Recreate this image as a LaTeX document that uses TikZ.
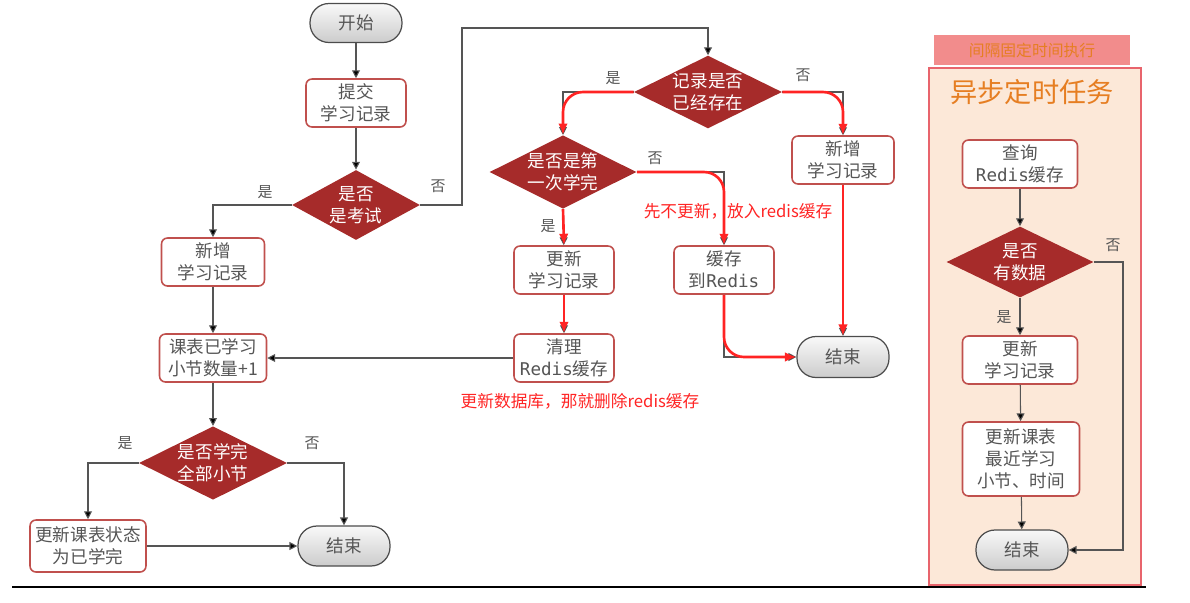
\documentclass[tikz,border=0pt]{standalone}
\usepackage{fontspec}
\setmainfont{Noto Sans CJK SC}
\setmonofont{DejaVu Sans Mono}
\usepackage{tikz}
\usetikzlibrary{shapes.geometric,arrows.meta,positioning}
\definecolor{boxred}{HTML}{C0504D}
\definecolor{decred}{HTML}{A62B2A}
\definecolor{txtgray}{HTML}{555555}
\definecolor{hotred}{HTML}{FF2424}
\definecolor{peach}{HTML}{FCE8D8}
\definecolor{panelred}{HTML}{E8646C}
\definecolor{headpink}{HTML}{F28C8C}
\definecolor{titleorange}{HTML}{E67E22}

\begin{document}
\begin{tikzpicture}[x=0.02cm, y=-0.02cm,
    box/.style={draw=boxred, line width=0.9pt, rounded corners=0.12cm, fill=white,
      text=txtgray, align=center, minimum width=2cm, minimum height=0.96cm,
      inner sep=1pt, font=\fontsize{10}{12.5}\selectfont},
    decide/.style={diamond, aspect=2, inner sep=0pt, fill=decred, text=white,
      align=center, minimum width=2.96cm, minimum height=1.42cm,
      font=\fontsize{10}{12.5}\selectfont},
    term/.style={rounded corners=0.38cm, draw=gray!60!black, line width=0.7pt,
      top color=gray!5, bottom color=gray!40, minimum width=1.84cm,
      minimum height=0.78cm, text=txtgray, font=\fontsize{10}{12}\selectfont},
    flow/.style={draw=txtgray, line width=0.6pt,
      -{Triangle[length=4.5pt,width=4.5pt,fill=black]}},
    hot/.style={draw=hotred, line width=1.5pt, rounded corners=0.4cm,
      -{Latex[length=6.5pt,width=5.5pt]}},
    yesno/.style={text=txtgray, font=\fontsize{8.5}{10}\selectfont},
    note/.style={text=hotred, font=\fontsize{9.5}{11}\selectfont}]
  \useasboundingbox (0,0) rectangle (1190,602);
  % Timer panel
  \fill[headpink] (934,35) rectangle (1130,65);
  \node[text=titleorange, font=\fontsize{9}{10}\selectfont] (timerTag) at (1032,50) {间隔固定时间执行};
  \draw[fill=peach, draw=panelred, line width=0.9pt] (929,68) rectangle (1141,585);
  \node[text=titleorange, font=\fontsize{15.5}{17}\selectfont] (panelTitle) at (1032,92) {异步定时任务};
  % Left column
  \node[term] (start) at (356,23) {开始};
  \node[box] (submit) at (356,103) {提交\\学习记录};
  \node[decide, minimum width=2.56cm, minimum height=1.4cm] (isExam) at (356,205) {是否\\是考试};
  \node[box, minimum width=2.06cm] (addRecL) at (213,262) {新增\\学习记录};
  \node[box, minimum width=2.14cm] (countBox) at (213,358) {课表已学习\\小节数量+1};
  \node[decide, minimum height=1.46cm] (allDone) at (213,463) {是否学完\\全部小节};
  \node[box, minimum width=2.32cm, minimum height=1.04cm] (markDone) at (88,546) {更新课表状态\\为已学完};
  \node[term, minimum height=0.8cm] (endL) at (344,546) {结束};
  % Middle part
  \node[decide] (exists) at (708,92) {记录是否\\已经存在};
  \node[decide, minimum width=2.92cm, minimum height=1.44cm] (firstDone) at (563,172) {是否是第\\一次学完};
  \node[box] (updRec) at (564,270) {更新\\学习记录};
  \node[box] (cacheRedis) at (724,270) {缓存\\到\texttt{Redis}};
  \node[box, minimum width=2.04cm] (addRecR) at (843,160) {新增\\学习记录};
  \node[box] (clearRedis) at (564,358) {清理\\\texttt{Redis}缓存};
  \node[term, minimum height=0.82cm] (endR) at (843,357) {结束};
  % Right panel nodes
  \node[box, minimum width=2.3cm] (query) at (1020,164) {查询\\\texttt{Redis}缓存};
  \node[decide, minimum width=2.94cm] (hasData) at (1020,262) {是否\\有数据};
  \node[box, minimum width=2.3cm] (updP) at (1020,360) {更新\\学习记录};
  \node[box, minimum width=2.34cm, minimum height=1.48cm] (recentP) at (1021,459) {更新课表\\最近学习\\小节、时间};
  \node[term, minimum height=0.8cm] (endP) at (1022,550) {结束};
  \coordinate (examOut) at (462,28);
  \coordinate (noData) at (1123,262);
  % Connectors
  \draw[flow] (start) -- (submit);
  \draw[flow] (submit) -- (isExam);
  \draw[flow] (isExam.west) -| (addRecL.north);
  \draw[flow] (isExam.east) -| (examOut) -| (exists.north);
  \draw[flow] (addRecL) -- (countBox);
  \draw[flow] (countBox) -- (allDone);
  \draw[flow] (allDone.west) -| (markDone.north);
  \draw[flow] (allDone.east) -| (endL.north);
  \draw[flow] (markDone) -- (endL);
  \draw[flow] (exists.west) -| (firstDone.north);
  \draw[flow] (exists.east) -| (addRecR.north);
  \draw[flow] (firstDone.east) -| (cacheRedis.north);
  \draw[flow] (firstDone) -- (updRec);
  \draw[flow] (updRec) -- (clearRedis);
  \draw[flow] (clearRedis.west) -- (countBox.east);
  \draw[flow] (addRecR) -- (endR);
  \draw[flow] (cacheRedis.south) |- (endR.west);
  \draw[flow] (query) -- (hasData);
  \draw[flow] (hasData) -- (updP);
  \draw[flow] (updP) -- (recentP);
  \draw[flow] (recentP) -- (endP);
  \draw[flow] (hasData.east) -- (noData) |- (endP.east);
  % Red marks
  \draw[hot] (exists.west) -| (firstDone.north);
  \draw[hot] (exists.east) -| (addRecR.north);
  \draw[hot] (firstDone.east) -| (cacheRedis.north);
  \draw[hot] (firstDone.south) -- (updRec.north);
  \draw[hot] (updRec) -- (clearRedis);
  \draw[hot] (addRecR) -- (endR);
  \draw[hot] (cacheRedis.south) |- (endR.west);
  % Yes / no labels
  \node[yesno] (y1) at (265,192) {是};
  \node[yesno] (n1) at (438,186) {否};
  \node[yesno] (y2) at (125,443) {是};
  \node[yesno] (n2) at (312,443) {否};
  \node[yesno] (y3) at (613,78) {是};
  \node[yesno] (n3) at (803,75) {否};
  \node[yesno] (n4) at (655,158) {否};
  \node[yesno] (y4) at (548,226) {是};
  \node[yesno] (n5) at (1113,245) {否};
  \node[yesno] (y5) at (1004,317) {是};
  % Notes
  \node[note] (noteCache) at (738,211) {先不更新，放入redis缓存};
  \node[note] (noteClear) at (580,401) {更新数据库，那就删除redis缓存};
  \draw[line width=1.2pt] (12,587) -- (1146,587);
\end{tikzpicture}
\end{document}
